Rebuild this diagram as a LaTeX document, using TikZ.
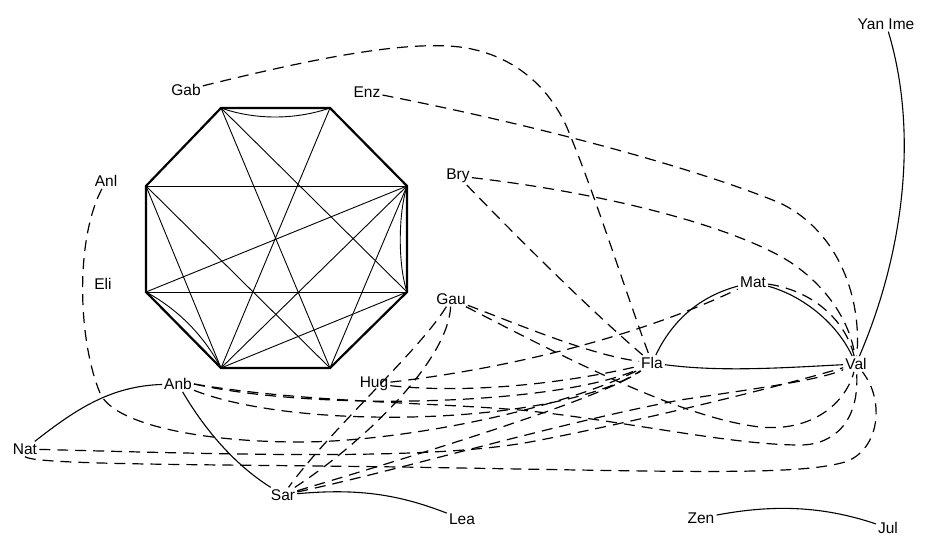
\documentclass[tikz,border=0pt]{standalone}
\usepackage{fontspec}
\setmainfont{Liberation Sans}
\begin{document}
\begin{tikzpicture}[x=1pt, y=-1pt,
  pers/.style={font=\fontsize{15.5}{18}\selectfont, inner sep=2pt},
  rim/.style={line width=2.2pt, line join=miter},
  chord/.style={line width=0.9pt},
  tie/.style={line width=1.1pt},
  pick/.style={line width=1.2pt, dash pattern=on 11pt off 7pt}]
  \useasboundingbox (0,0) rectangle (925,537);

  % Members
  \node[pers] (gab) at (186,90) {Gab};
  \node[pers] (enz) at (367,92) {Enz};
  \node[pers] (anl) at (106,181) {Anl};
  \node[pers] (eli) at (103,284) {Eli};
  \node[pers] (bry) at (458,176) {Bry};
  \node[pers] (yan) at (886,24) {Yan Ime};
  \node[pers] (gau) at (451,299) {Gau};
  \node[pers] (mat) at (753,282) {Mat};
  \node[pers] (fla) at (652,363) {Fla};
  \node[pers] (val) at (856,364) {Val};
  \node[pers] (hug) at (374,384) {Hug};
  \node[pers] (anb) at (178,384) {Anb};
  \node[pers] (nat) at (25,449) {Nat};
  \node[pers] (sar) at (283,495) {Sar};
  \node[pers] (lea) at (462,519) {Lea};
  \node[pers] (zen) at (701,518) {Zen};
  \node[pers] (jul) at (888,528) {Jul};

  % Octagon
  \coordinate (o1) at (221,108);
  \coordinate (o2) at (330,108);
  \coordinate (o3) at (407,186);
  \coordinate (o4) at (407,292);
  \coordinate (o5) at (330,368);
  \coordinate (o6) at (221,368);
  \coordinate (o7) at (146,292);
  \coordinate (o8) at (146,186);
  \draw[rim] (o1) -- (o2) -- (o3) -- (o4) -- (o5) -- (o6) -- (o7) -- (o8) -- cycle;
  \foreach \a/\b in {o8/o3, o7/o4, o1/o5, o1/o4, o2/o6, o3/o7, o3/o6, o3/o5, o8/o6, o8/o5, o6/o4}
    \draw[chord] (\a) -- (\b);
  % double ties
  \draw[chord] (o1) .. controls (255,120) and (295,120) .. (o2);
  \draw[chord] (o3) .. controls (398,215) and (398,265) .. (o4);
  \draw[chord] (o7) .. controls (179,310) and (204,336) .. (o6);

  % Solid ties
  \draw[tie] (yan) .. controls (918,130) and (905,250) .. (val);
  \draw[tie] (fla) .. controls (675,315) and (705,295) .. (mat);
  \draw[tie] (mat) .. controls (800,295) and (835,320) .. (val);
  \draw[tie] (fla) .. controls (720,372) and (780,368) .. (val);
  \draw[tie] (zen) .. controls (770,505) and (820,505) .. (jul);
  \draw[tie] (sar) .. controls (360,488) and (400,495) .. (lea);
  \draw[tie] (anb) .. controls (205,430) and (235,465) .. (sar);
  \draw[tie] (anb) .. controls (110,386) and (75,410) .. (nat);

  % Dashed ties
  \draw[pick] (gab) .. controls (300,62) and (400,40) .. (460,47)
    .. controls (520,55) and (555,95) .. (570,135)
    .. controls (595,195) and (625,290) .. (fla);
  \draw[pick] (enz) .. controls (550,128) and (700,170) .. (780,203)
    .. controls (840,232) and (862,300) .. (val);
  \draw[pick] (bry) .. controls (620,195) and (740,230) .. (790,262)
    .. controls (825,285) and (850,320) .. (val);
  \draw[pick] (bry) .. controls (520,240) and (590,310) .. (fla);
  \draw[pick] (anl) .. controls (75,240) and (78,340) .. (100,393)
    .. controls (113,424) and (200,442) .. (300,442)
    .. controls (400,442) and (560,410) .. (fla);
  \draw[pick] (mat) .. controls (810,290) and (845,318) .. (val);
  \draw[pick] (hug) .. controls (480,372) and (620,345) .. (mat);
  \draw[pick] (hug) .. controls (480,395) and (580,380) .. (fla);
  \draw[pick] (gau) .. controls (520,325) and (590,355) .. (fla);
  \draw[pick] (gau) .. controls (560,355) and (680,418) .. (760,427)
    .. controls (810,432) and (845,405) .. (val);
  \draw[pick] (gau) .. controls (420,350) and (330,430) .. (sar);
  \draw[pick] (gau) .. controls (448,362) and (360,445) .. (sar);
  \draw[pick] (anb.east) .. controls (320,412) and (560,405) .. (fla);
  \draw[pick] (anb) .. controls (300,432) and (560,425) .. (fla);
  \draw[pick] (anb.east) .. controls (300,402) and (420,402) .. (520,410)
    .. controls (620,420) and (730,445) .. (800,445)
    .. controls (835,445) and (860,420) .. (val);
  \draw[pick] (sar) .. controls (400,470) and (550,425) .. (680,400)
    .. controls (760,388) and (820,380) .. (val);
  \draw[pick] (sar) .. controls (400,460) and (600,400) .. (fla);
  \draw[pick] (nat) .. controls (250,455) and (430,460) .. (530,442)
    .. controls (620,425) and (760,392) .. (val);
  \draw[pick] (nat.south) .. controls (35,466) and (250,464) .. (460,468)
    .. controls (700,472) and (800,475) .. (845,462)
    .. controls (880,450) and (885,400) .. (val);
\end{tikzpicture}
\end{document}
